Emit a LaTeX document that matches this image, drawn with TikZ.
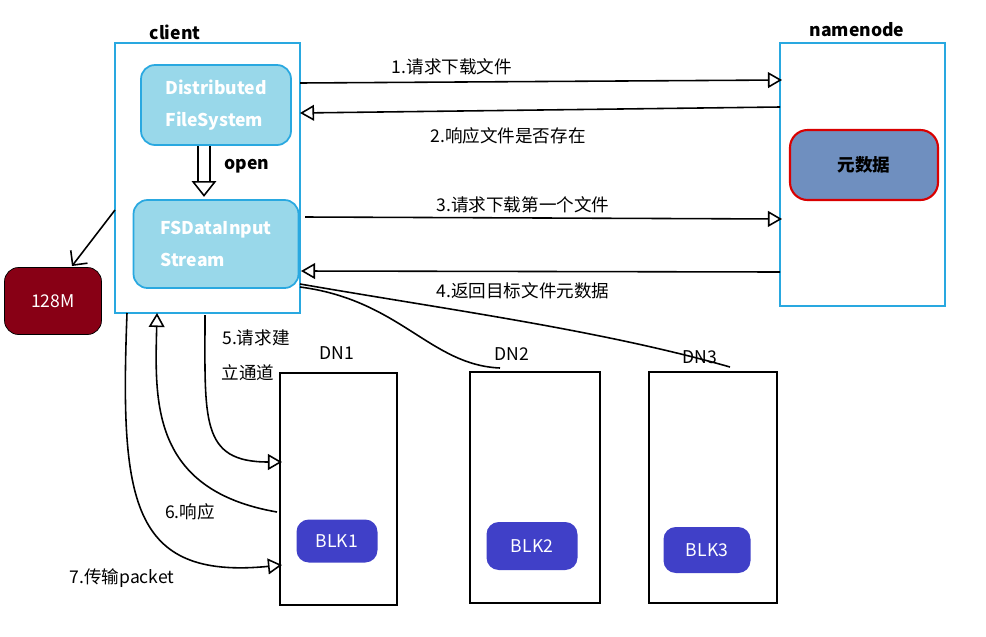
\documentclass[tikz,border=0pt]{standalone}
\usepackage{fontspec}
\setmainfont{Noto Sans CJK SC}
\usetikzlibrary{arrows.meta}
\definecolor{cyanline}{HTML}{29A8E0}
\definecolor{lightblue}{HTML}{99D8EA}
\definecolor{metablue}{HTML}{6F8FBF}
\definecolor{blkblue}{HTML}{4040C8}
\definecolor{darkred}{HTML}{880015}
\tikzset{
	box/.style={draw=cyanline, line width=1.2pt},
	inner/.style={draw=cyanline, line width=1pt, fill=lightblue, rounded corners=8pt, text=white, font=\bfseries\fontsize{10}{18}\selectfont, align=left},
	blk/.style={fill=blkblue, rounded corners=7pt, text=white, font=\fontsize{10}{12}\selectfont},
	dn/.style={draw=black, line width=1pt},
	lbl/.style={font=\fontsize{10}{12}\selectfont},
	hollow/.style={line width=0.9pt, -{Triangle[open, length=8pt, width=9pt]}},
	plain/.style={line width=0.9pt}
}
\begin{document}
\begin{tikzpicture}[x=0.02cm, y=-0.02cm]
	\useasboundingbox (0,0) rectangle (986,636);

	% client side
	\draw[box] (115,43) rectangle (300,313);
	\node[lbl, font=\bfseries\fontsize{10}{12}\selectfont] (client) at (175,32) {client};
	\node[inner, minimum width=150*0.02cm, minimum height=80*0.02cm] (dfs) at (216,105) {Distributed\\FileSystem};
	\node[inner, minimum width=165*0.02cm, minimum height=88*0.02cm] (fsin) at (216,244) {FSDataInput\\Stream};
	\draw[line width=0.9pt, -{Triangle[open, length=9pt, width=14pt]}, double distance=6pt] (dfs.south) ++(-12,0) -- ++(0,51);
	\node[lbl, font=\bfseries\fontsize{10}{12}\selectfont] (open) at (247,166) {open};

	% namenode side
	\draw[box] (780,43) rectangle (945,306);
	\node[lbl, font=\bfseries\fontsize{10}{12}\selectfont] (nn) at (857,30) {namenode};
	\node[draw=red!85!black, line width=1.2pt, fill=metablue, rounded corners=10pt, minimum width=148*0.02cm, minimum height=70*0.02cm, font=\bfseries\fontsize{10}{12}\selectfont] (meta) at (864,165) {元数据};

	% block size
	\node[fill=darkred, draw=black, rounded corners=8pt, minimum width=97*0.02cm, minimum height=67*0.02cm, text=white, font=\fontsize{10}{12}\selectfont] (size) at (53,301) {128M};
	\coordinate (cl) at (115,210);
	\coordinate (sz) at (72,266);
	\draw[plain, -{Straight Barb[length=6pt]}] (cl) -- (sz);

	% requests to namenode
	\coordinate (a1) at (300,83);  \coordinate (b1) at (782,80);
	\coordinate (a2) at (780,107); \coordinate (b2) at (300,113);
	\coordinate (a3) at (305,217); \coordinate (b3) at (782,219);
	\coordinate (a4) at (780,272); \coordinate (b4) at (301,271);
	\draw[hollow] (a1) -- (b1);
	\draw[hollow] (a2) -- (b2);
	\draw[hollow] (a3) -- (b3);
	\draw[hollow] (a4) -- (b4);
	\node[lbl] (l1) at (452,67) {1.请求下载文件};
	\node[lbl] (l2) at (508,136) {2.响应文件是否存在};
	\node[lbl] (l3) at (523,205) {3.请求下载第一个文件};
	\node[lbl] (l4) at (523,291) {4.返回目标文件元数据};

	% datanodes
	\draw[dn] (280,373) rectangle (397,605);
	\draw[dn] (470,372) rectangle (600,603);
	\draw[dn] (649,372) rectangle (777,603);
	\node[lbl] (dn1) at (337,353) {DN1};
	\node[lbl] (dn2) at (512,354) {DN2};
	\node[lbl] (dn3) at (700,357) {DN3};
	\node[blk, minimum width=81*0.02cm, minimum height=43*0.02cm] (blk1) at (337,541) {BLK1};
	\node[blk, minimum width=91*0.02cm, minimum height=48*0.02cm] (blk2) at (532,546) {BLK2};
	\node[blk, minimum width=87*0.02cm, minimum height=46*0.02cm] (blk3) at (707,550) {BLK3};

	% client to datanodes
	\coordinate (c1) at (300,287);  \coordinate (d2) at (500,368);
	\coordinate (c2) at (300,284);  \coordinate (d3) at (730,367);
	\draw[plain] (c1) .. controls (400,300) and (430,365) .. (d2);
	\draw[plain] (c2) .. controls (450,310) and (600,330) .. (d3);

	% pipeline
	\coordinate (s5) at (205,315); \coordinate (e5) at (282,462);
	\coordinate (s6) at (277,512); \coordinate (e6) at (157,313);
	\coordinate (s7) at (127,313); \coordinate (e7) at (282,565);
	\draw[hollow] (s5) .. controls (205,420) and (200,462) .. (e5);
	\draw[hollow] (s6) .. controls (150,490) and (155,400) .. (e6);
	\draw[hollow] (s7) .. controls (120,500) and (130,580) .. (e7);
	\node[lbl] (l5) at (256,338) {5.请求建};
	\node[lbl] (l5b) at (248,373) {立通道};
	\node[lbl] (l6) at (190,512) {6.响应};
	\node[lbl] (l7) at (122,578) {7.传输packet};
\end{tikzpicture}
\end{document}
